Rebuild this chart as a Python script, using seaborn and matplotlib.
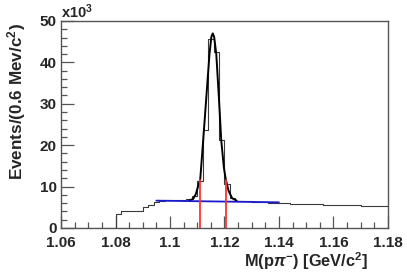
import matplotlib
matplotlib.use("Agg")
import matplotlib.pyplot as plt
import numpy as np
import pandas as pd
import seaborn as sns

# histogram: 0.002 GeV bins from 1.06 to 1.18, counts in units of 10^3
bin_lo = 1.06
bin_hi = 1.18
bin_w = 0.002
counts = [
    0, 0, 0, 0, 0, 0, 0, 0, 0, 0,
    3.4, 4.0, 4.1, 4.1, 4.0, 5.0, 5.6, 6.3, 6.6, 6.7,
    6.7, 6.8, 6.8, 6.9, 7.8, 11.3, 23.7, 45.7, 42.6, 21.3,
    10.6, 7.2, 6.6, 6.5, 6.4, 6.3, 6.2, 6.2, 6.1, 6.1,
    6.0, 6.0, 5.9, 5.9, 5.9, 5.8, 5.9, 5.8, 5.6, 5.6,
    5.6, 5.6, 5.5, 5.5, 5.5, 5.4, 5.4, 5.4, 5.4, 5.4,
]

# fitted signal curve
fit_x = [1.1070, 1.1085, 1.1095, 1.1105, 1.1111, 1.1122, 1.1135, 1.1145, 1.1152,
         1.1157, 1.1162, 1.1170, 1.1180, 1.1188, 1.1198, 1.1205, 1.1215, 1.1228, 1.1245]
fit_y = [6.6, 7.0, 8.2, 10.5, 11.7, 21.3, 33.0, 42.0, 46.2,
         47.0, 46.2, 42.0, 31.0, 21.3, 14.5, 11.7, 9.0, 7.2, 6.6]

# background line
bkg_x = [1.095, 1.140]
bkg_y = [6.6, 6.2]

# signal window
cut_x = [1.1111, 1.1205]
cut_top = [11.7, 11.7]

xtick_vals = [1.06, 1.08, 1.10, 1.12, 1.14, 1.16, 1.18]
xtick_text = ["1.06", "1.08", "1.1", "1.12", "1.14", "1.16", "1.18"]

sns.set_style("white")
plt.rcParams["font.family"] = ["Liberation Sans", "DejaVu Sans"]
plt.rcParams["font.weight"] = "bold"
plt.rcParams["mathtext.fontset"] = "custom"
plt.rcParams["mathtext.rm"] = "Liberation Sans:bold"
plt.rcParams["mathtext.bf"] = "Liberation Sans:bold"
plt.rcParams["mathtext.it"] = "Liberation Sans:italic:bold"

n_bins = len(counts)
hist_df = pd.DataFrame({
    "mass": bin_lo + bin_w * (np.arange(n_bins) + 0.5),
    "events": counts,
})

fig = plt.figure(figsize=(4.07, 2.76), dpi=100)
ax = fig.add_axes([0.150, 0.174, 0.803, 0.750])

sns.histplot(data=hist_df, x="mass", weights="events", bins=n_bins,
             binrange=(bin_lo, bin_hi), element="step", fill=False,
             color="#3a3a3a", linewidth=0.8, ax=ax)
sns.lineplot(x=fit_x, y=fit_y, color="black", linewidth=1.4, sort=False, ax=ax)
sns.lineplot(x=bkg_x, y=bkg_y, color="#1a1acc", linewidth=1.3, ax=ax)
for cx, ct in zip(cut_x, cut_top):
    ax.plot([cx, cx], [0, ct], color="#ff3333", linewidth=1.3)

ax.set_xlim(bin_lo, bin_hi)
ax.set_ylim(0, 50)
ax.set_xticks(xtick_vals)
ax.set_xticklabels(xtick_text)
ax.set_xticks(np.arange(1.06, 1.181, 0.005), minor=True)
ax.set_yticks(np.arange(0, 51, 10))
ax.set_yticks(np.arange(0, 51, 2), minor=True)
ax.tick_params(which="both", direction="in", bottom=True, left=True,
               top=False, right=False, color="#555555", width=0.9,
               labelsize=11)
ax.tick_params(which="major", length=9)
ax.tick_params(which="minor", length=4.5)
ax.tick_params(axis="x", pad=6)
ax.tick_params(axis="y", pad=3)
for lab in ax.get_xticklabels() + ax.get_yticklabels():
    lab.set_fontweight("bold")
for sp in ax.spines.values():
    sp.set_color("#555555")
    sp.set_linewidth(1.0)

ax.set_ylabel("Events/(0.6 Mev/c$^{2}$)", fontsize=12.3, fontweight="bold")
ax.yaxis.set_label_coords(-0.100, 0.61)
ax.set_xlabel(r"M(p$\pi^{-}$) [GeV/c$^{2}$]", fontsize=11.8, fontweight="bold")
ax.xaxis.set_label_coords(0.94, -0.11)
ax.xaxis.label.set_horizontalalignment("right")
ax.text(0.0, 1.0, "x10$^{3}$", transform=ax.transAxes, fontsize=10.5,
        fontweight="bold", ha="left", va="bottom")

fig.savefig("out.png", dpi=100)
